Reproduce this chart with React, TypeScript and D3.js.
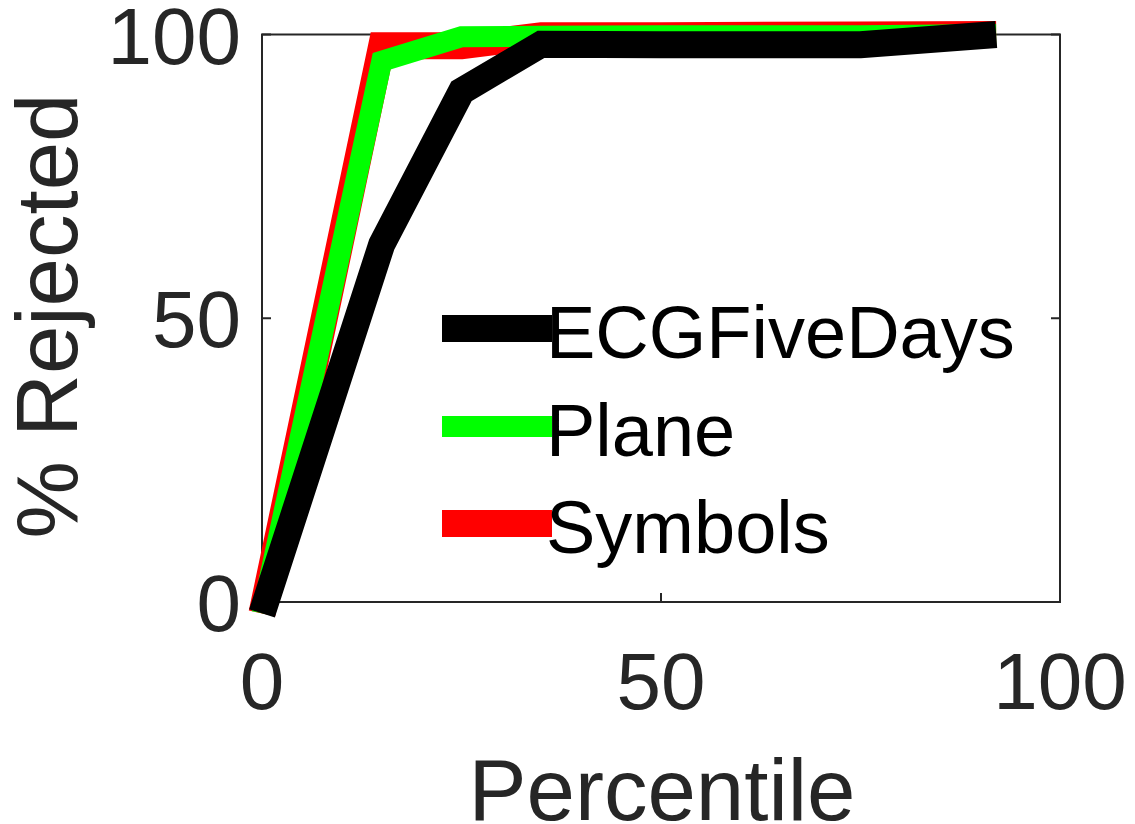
import React from "react";
import * as d3 from "d3";

const percentiles = [0, 15, 25, 35, 50, 75, 92];
const ecgFiveDays = [-2, 63, 90, 98.3, 98.2, 98.2, 100];
const plane = [-2, 95.3, 99.6, 99.7, 99.8, 99.8, 100];
const symbols = [-2, 98, 98, 99.8, 99.8, 99.9, 100];

const xTicks = [0, 50, 100];
const yTicks = [0, 50, 100];

const seriesNames = ["ECGFiveDays", "Plane", "Symbols"];
const seriesColors = ["#000000", "#00ff00", "#ff0000"];
const seriesWidths = [27, 21, 27];
const seriesData = [ecgFiveDays, plane, symbols];

const W = 1135;
const H = 824;
const FONT = "'Liberation Sans', Arial, Helvetica, sans-serif";
const AX = "#262626";

export default function App() {
  const x = d3.scaleLinear().domain([0, 100]).range([262, 1060]);
  const y = d3.scaleLinear().domain([0, 100]).range([602, 34.5]);
  const line = d3
    .line<[number, number]>()
    .x((d) => x(d[0]))
    .y((d) => y(d[1]));

  const drawOrder = [2, 1, 0];
  const legendY = [328.5, 426.5, 523.5];
  const tickLen = 9;

  return (
    <svg
      width={W}
      height={H}
      style={{ position: "absolute", left: 0, top: 0, background: "#fff" }}
      fontFamily={FONT}
    >
      <rect x={0} y={0} width={W} height={H} fill="#fff" />
      {/* axes box */}
      <rect
        x={x(0)}
        y={y(100)}
        width={x(100) - x(0)}
        height={y(0) - y(100)}
        fill="none"
        stroke={AX}
        strokeWidth={2}
      />
      {xTicks.map((t) => (
        <g key={"xt" + t}>
          <line x1={x(t)} x2={x(t)} y1={y(0)} y2={y(0) - tickLen} stroke={AX} strokeWidth={2} />
          <line x1={x(t)} x2={x(t)} y1={y(100)} y2={y(100) + tickLen} stroke={AX} strokeWidth={2} />
          <text x={x(t)} y={709} textAnchor="middle" fontSize={80} fill={AX}>
            {t}
          </text>
        </g>
      ))}
      {yTicks.map((t) => (
        <g key={"yt" + t}>
          <line x1={x(0)} x2={x(0) + tickLen} y1={y(t)} y2={y(t)} stroke={AX} strokeWidth={2} />
          <line x1={x(100)} x2={x(100) - tickLen} y1={y(t)} y2={y(t)} stroke={AX} strokeWidth={2} />
          <text x={241} y={y(t) + 29} textAnchor="end" fontSize={80} fill={AX}>
            {t}
          </text>
        </g>
      ))}
      {/* series */}
      {drawOrder.map((i) => (
        <path
          key={seriesNames[i]}
          d={line(percentiles.map((p, k) => [p, seriesData[i][k]] as [number, number])) || ""}
          fill="none"
          stroke={seriesColors[i]}
          strokeWidth={seriesWidths[i]}
          strokeLinejoin="miter"
          strokeLinecap="butt"
          strokeMiterlimit={10}
        />
      ))}
      {/* legend */}
      {seriesNames.map((name, i) => (
        <g key={"lg" + name}>
          <line
            x1={442}
            x2={552}
            y1={legendY[i]}
            y2={legendY[i]}
            stroke={seriesColors[i]}
            strokeWidth={seriesWidths[i]}
          />
          <text x={546} y={legendY[i] + 29.5} fontSize={74} fill="#000">
            {name}
          </text>
        </g>
      ))}
      {/* axis labels */}
      <text x={662} y={820} textAnchor="middle" fontSize={87} fill={AX}>
        Percentile
      </text>
      <text
        transform={`translate(77,316) rotate(-90)`}
        textAnchor="middle"
        fontSize={87}
        fill={AX}
      >
        % Rejected
      </text>
    </svg>
  );
}
